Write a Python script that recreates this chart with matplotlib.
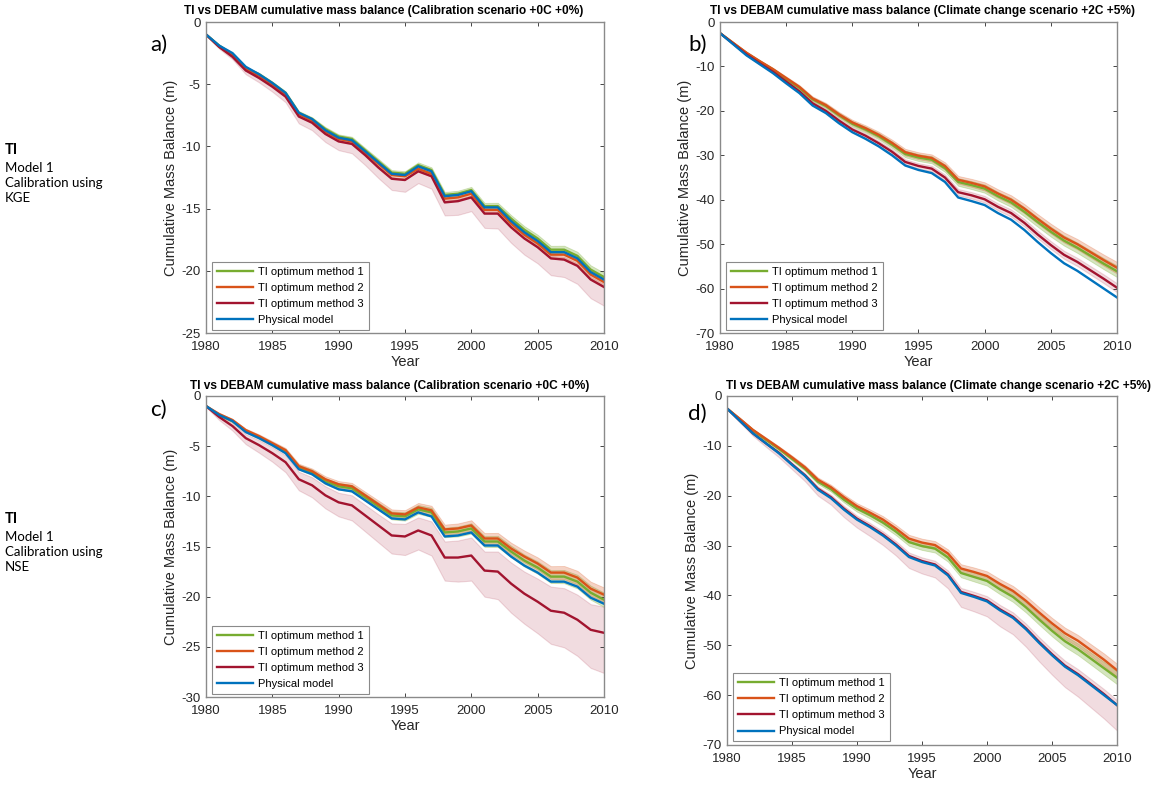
import numpy as np
import matplotlib
matplotlib.use("Agg")
import matplotlib.pyplot as plt

plt.rcParams['font.family'] = ['Liberation Sans', 'DejaVu Sans']
plt.rcParams['axes.unicode_minus'] = False

# years of the simulation
years = np.arange(1980, 2011)

labels = ["TI optimum method 1", "TI optimum method 2", "TI optimum method 3", "Physical model"]
colors = ["#77AC30", "#D95319", "#A2142F", "#0072BD"]

# physical model (DEBAM), calibration scenario +0C +0%
phys_cal = [-1.0, -1.9, -2.5, -3.6, -4.2, -4.9, -5.7, -7.3, -7.8, -8.7, -9.3, -9.5, -10.4, -11.3, -12.2, -12.3,
            -11.6, -12.0, -14.0, -13.9, -13.6, -14.9, -14.9, -16.0, -16.9, -17.6, -18.5, -18.5, -19.0, -20.1, -20.7]
# physical model, climate change scenario +2C +5%
phys_cc = [-2.5, -5.0, -7.5, -9.5, -11.5, -13.8, -16.0, -18.8, -20.5, -22.8, -24.8, -26.3, -28.0, -30.0, -32.3, -33.3,
           -34.0, -36.0, -39.5, -40.3, -41.2, -43.0, -44.5, -46.8, -49.5, -52.0, -54.3, -56.0, -58.0, -60.0, -62.0]

# panel a) KGE, calibration scenario
m1_a = [-1.0, -1.9, -2.6, -3.7, -4.2, -4.9, -5.7, -7.3, -7.8, -8.6, -9.2, -9.4, -10.3, -11.2, -12.1, -12.2,
        -11.5, -11.9, -13.9, -13.8, -13.5, -14.8, -14.8, -15.8, -16.7, -17.4, -18.3, -18.3, -18.8, -19.9, -20.5]
m2_a = [-1.0, -2.0, -2.7, -3.8, -4.3, -5.0, -5.8, -7.4, -7.9, -8.8, -9.4, -9.6, -10.5, -11.4, -12.3, -12.4,
        -11.8, -12.2, -14.2, -14.1, -13.8, -15.1, -15.1, -16.2, -17.1, -17.8, -18.7, -18.7, -19.2, -20.3, -20.9]
m3_a = [-1.0, -2.0, -2.8, -3.9, -4.5, -5.2, -6.0, -7.6, -8.1, -9.0, -9.6, -9.8, -10.7, -11.7, -12.6, -12.7,
        -12.0, -12.4, -14.5, -14.4, -14.1, -15.4, -15.4, -16.5, -17.4, -18.1, -19.0, -19.1, -19.6, -20.7, -21.3]
tan_a = [0.05, 0.08, 0.1, 0.1, 0.12, 0.12, 0.14, 0.15, 0.15, 0.16, 0.17, 0.18, 0.18, 0.2, 0.2, 0.21,
         0.22, 0.22, 0.24, 0.24, 0.25, 0.26, 0.27, 0.28, 0.29, 0.3, 0.31, 0.32, 0.33, 0.34, 0.35]
red_lo_a = [0.05, 0.15, 0.2, 0.3, 0.35, 0.4, 0.45, 0.55, 0.6, 0.65, 0.7, 0.75, 0.8, 0.85, 0.9, 0.95,
            0.95, 1.0, 1.05, 1.1, 1.1, 1.15, 1.2, 1.25, 1.3, 1.3, 1.35, 1.4, 1.45, 1.5, 1.5]
red_hi_a = [0.02, 0.05, 0.05, 0.06, 0.07, 0.08, 0.08, 0.09, 0.1, 0.1, 0.11, 0.12, 0.12, 0.13, 0.14, 0.14,
            0.15, 0.15, 0.16, 0.17, 0.17, 0.18, 0.18, 0.19, 0.2, 0.2, 0.21, 0.22, 0.22, 0.23, 0.25]

# panel b) KGE, climate change scenario
m1_b = [-2.5, -4.75, -7.0, -8.9, -10.7, -12.8, -14.8, -17.4, -18.9, -21.0, -22.9, -24.2, -25.7, -27.6, -29.7, -30.5,
        -31.0, -32.9, -36.0, -36.7, -37.5, -39.2, -40.6, -42.7, -45.0, -47.2, -49.2, -50.8, -52.6, -54.4, -56.1]
m2_b = [-2.5, -4.7, -6.9, -8.8, -10.6, -12.6, -14.6, -17.2, -18.7, -20.8, -22.6, -23.9, -25.4, -27.2, -29.3, -30.1,
        -30.6, -32.4, -35.5, -36.2, -37.0, -38.6, -40.0, -42.0, -44.3, -46.5, -48.5, -50.0, -51.8, -53.6, -55.3]
m3_b = [-2.5, -4.9, -7.3, -9.3, -11.2, -13.4, -15.6, -18.3, -20.0, -22.2, -24.2, -25.6, -27.3, -29.2, -31.5, -32.4,
        -33.0, -35.0, -38.3, -39.0, -39.9, -41.6, -43.0, -45.2, -47.8, -50.2, -52.4, -54.0, -55.9, -57.8, -59.8]
tan_b = [0.1, 0.15, 0.2, 0.25, 0.3, 0.35, 0.4, 0.45, 0.5, 0.55, 0.6, 0.65, 0.7, 0.72, 0.75, 0.78,
         0.8, 0.83, 0.86, 0.9, 0.93, 0.96, 1.0, 1.03, 1.06, 1.1, 1.13, 1.16, 1.2, 1.25, 1.3]
red_lo_b = [0.1, 0.15, 0.2, 0.25, 0.3, 0.32, 0.35, 0.4, 0.42, 0.45, 0.5, 0.52, 0.55, 0.58, 0.6, 0.62,
            0.65, 0.68, 0.7, 0.72, 0.75, 0.78, 0.8, 0.82, 0.85, 0.88, 0.9, 0.92, 0.95, 0.98, 1.0]
red_hi_b = [0.1, 0.15, 0.2, 0.25, 0.3, 0.32, 0.35, 0.4, 0.42, 0.45, 0.5, 0.52, 0.55, 0.58, 0.6, 0.62,
            0.65, 0.68, 0.7, 0.72, 0.75, 0.78, 0.8, 0.82, 0.85, 0.88, 0.9, 0.92, 0.95, 0.98, 1.0]

# panel c) NSE, calibration scenario
m1_c = [-1.0, -1.9, -2.5, -3.5, -4.1, -4.8, -5.5, -7.1, -7.6, -8.5, -9.0, -9.2, -10.1, -11.0, -11.9, -12.0,
        -11.3, -11.6, -13.6, -13.5, -13.2, -14.5, -14.5, -15.5, -16.4, -17.1, -18.0, -18.0, -18.5, -19.6, -20.3]
m2_c = [-1.0, -1.8, -2.4, -3.4, -4.0, -4.7, -5.4, -7.0, -7.5, -8.3, -8.8, -9.0, -9.9, -10.8, -11.7, -11.8,
        -11.1, -11.4, -13.3, -13.2, -12.9, -14.2, -14.2, -15.2, -16.0, -16.7, -17.6, -17.6, -18.1, -19.2, -19.8]
m3_c = [-1.0, -2.1, -3.0, -4.2, -4.9, -5.7, -6.6, -8.3, -8.9, -9.9, -10.6, -10.9, -11.9, -12.9, -13.9, -14.0,
        -13.4, -13.9, -16.1, -16.1, -15.9, -17.4, -17.5, -18.7, -19.7, -20.5, -21.4, -21.6, -22.3, -23.3, -23.6]
tan_c = [0.05, 0.1, 0.12, 0.15, 0.18, 0.2, 0.22, 0.25, 0.27, 0.3, 0.32, 0.34, 0.36, 0.38, 0.4, 0.42,
         0.44, 0.46, 0.48, 0.5, 0.52, 0.54, 0.56, 0.58, 0.6, 0.62, 0.64, 0.66, 0.68, 0.7, 0.72]
red_lo_c = [0.1, 0.3, 0.45, 0.6, 0.75, 0.85, 1.0, 1.1, 1.2, 1.3, 1.4, 1.5, 1.6, 1.7, 1.8, 1.85,
            1.9, 2.0, 2.3, 2.4, 2.5, 2.6, 2.75, 2.9, 3.0, 3.15, 3.3, 3.45, 3.6, 3.8, 4.0]
red_hi_c = [0.05, 0.15, 0.3, 0.4, 0.5, 0.6, 0.7, 0.75, 0.8, 0.9, 0.95, 1.0, 1.05, 1.1, 1.2, 1.25,
            1.3, 1.4, 1.6, 1.7, 1.8, 1.9, 2.0, 2.1, 2.2, 2.3, 2.4, 2.45, 2.5, 2.55, 2.6]

# panel d) NSE, climate change scenario
m1_d = [-2.5, -4.7, -6.9, -8.8, -10.6, -12.6, -14.6, -17.2, -18.7, -20.8, -22.6, -23.9, -25.4, -27.2, -29.3, -30.1,
        -30.6, -32.4, -35.5, -36.3, -37.1, -38.8, -40.3, -42.4, -44.8, -47.1, -49.2, -50.8, -52.7, -54.6, -56.5]
m2_d = [-2.5, -4.6, -6.8, -8.6, -10.4, -12.3, -14.3, -16.8, -18.3, -20.3, -22.1, -23.4, -24.8, -26.6, -28.6, -29.4,
        -29.9, -31.6, -34.6, -35.3, -36.1, -37.7, -39.1, -41.1, -43.4, -45.6, -47.6, -49.1, -51.0, -52.9, -55.0]
m3_d = [-2.5, -5.0, -7.5, -9.5, -11.4, -13.7, -15.9, -18.6, -20.3, -22.6, -24.6, -26.1, -27.8, -29.8, -32.1, -33.1,
        -33.8, -35.8, -39.3, -40.1, -41.0, -42.8, -44.3, -46.6, -49.3, -51.8, -54.1, -55.8, -57.8, -59.8, -62.0]
tan_d = [0.1, 0.15, 0.2, 0.25, 0.3, 0.35, 0.4, 0.45, 0.5, 0.55, 0.6, 0.65, 0.7, 0.72, 0.75, 0.78,
         0.8, 0.83, 0.86, 0.9, 0.93, 0.96, 1.0, 1.03, 1.06, 1.1, 1.13, 1.16, 1.2, 1.25, 1.3]
red_lo_d = [0.1, 0.3, 0.5, 0.7, 0.9, 1.0, 1.2, 1.4, 1.5, 1.7, 1.8, 2.0, 2.1, 2.2, 2.4, 2.5,
            2.6, 2.8, 3.0, 3.1, 3.2, 3.4, 3.5, 3.7, 3.9, 4.1, 4.3, 4.5, 4.7, 4.9, 5.1]
red_hi_d = [0.1, 0.15, 0.2, 0.25, 0.3, 0.35, 0.4, 0.45, 0.5, 0.55, 0.6, 0.62, 0.65, 0.68, 0.7, 0.72,
            0.75, 0.78, 0.8, 0.82, 0.85, 0.88, 0.9, 0.92, 0.95, 0.97, 1.0, 1.0, 1.0, 1.0, 1.0]

titles = ["TI vs DEBAM cumulative mass balance (Calibration scenario +0C +0%)",
          "TI vs DEBAM cumulative mass balance (Climate change scenario +2C +5%)"]


def draw_panel(ax, m1, m2, m3, phys, tan, red_lo, red_hi, ylim, ystep):
    m1, m2, m3 = np.array(m1), np.array(m2), np.array(m3)
    tan, red_lo, red_hi = np.array(tan), np.array(red_lo), np.array(red_hi)
    # uncertainty envelopes
    ax.fill_between(years, m3 - red_lo, m3 + red_hi, facecolor=colors[2], alpha=0.15,
                    edgecolor=colors[2], linewidth=0.8)
    ax.fill_between(years, m1 - tan, m1 + tan, facecolor=colors[0], alpha=0.3,
                    edgecolor=colors[0], linewidth=0.6)
    ax.fill_between(years, m2 - tan, m2 + tan, facecolor=colors[1], alpha=0.25,
                    edgecolor=colors[1], linewidth=0.6)
    for series, c, lab in zip([m1, m2, m3, phys], colors, labels):
        ax.plot(years, series, color=c, lw=1.7, label=lab)
    ax.set_xlim(1980, 2010)
    ax.set_ylim(ylim, 0)
    ax.set_xticks(np.arange(1980, 2011, 5))
    ax.set_yticks(np.arange(ylim, 1, ystep))
    ax.tick_params(direction="in", top=True, right=True, length=3, labelsize=9.5,
                   colors="#262626", width=0.6)
    ax.tick_params(axis="x", pad=6)
    ax.tick_params(axis="y", pad=4)
    for s in ax.spines.values():
        s.set_color("#8a8a8a")
        s.set_linewidth(1.0)
    ax.set_xlabel("Year", fontsize=10.5, color="#262626", labelpad=1)
    ax.set_ylabel("Cumulative Mass Balance (m)", fontsize=10.5, color="#262626", labelpad=2)
    leg = ax.legend(loc="lower left", bbox_to_anchor=(0.016, 0.01), borderaxespad=0,
                    fontsize=8, handlelength=3.2, fancybox=False, framealpha=1,
                    edgecolor="#8a8a8a", borderpad=0.45, labelspacing=0.55, handletextpad=0.5)
    leg.get_frame().set_linewidth(0.8)


fig = plt.figure(figsize=(11.65, 7.86), dpi=100)

ax_a = fig.add_axes([0.1768, 0.5763, 0.3416, 0.3957])
ax_b = fig.add_axes([0.618, 0.5763, 0.3408, 0.3957])
ax_c = fig.add_axes([0.1768, 0.1132, 0.3416, 0.383])
ax_d = fig.add_axes([0.624, 0.0522, 0.3348, 0.444])

draw_panel(ax_a, m1_a, m2_a, m3_a, phys_cal, tan_a, red_lo_a, red_hi_a, -25, 5)
draw_panel(ax_b, m1_b, m2_b, m3_b, phys_cc, tan_b, red_lo_b, red_hi_b, -70, 10)
draw_panel(ax_c, m1_c, m2_c, m3_c, phys_cal, tan_c, red_lo_c, red_hi_c, -30, 5)
draw_panel(ax_d, m1_d, m2_d, m3_d, phys_cc, tan_d, red_lo_d, red_hi_d, -70, 10)

# panel titles
fig.text(384 / 1165, 1 - 11 / 786, titles[0], ha="center", va="center", fontsize=8.6, fontweight="bold")
fig.text(922 / 1165, 1 - 11 / 786, titles[1], ha="center", va="center", fontsize=8.6, fontweight="bold")
fig.text(390 / 1165, 1 - 386 / 786, titles[0], ha="center", va="center", fontsize=8.6, fontweight="bold")
fig.text(938 / 1165, 1 - 386 / 786, titles[1], ha="center", va="center", fontsize=8.6, fontweight="bold")

# panel letters
for lx, ly, letter in [(150, 45, "a)"), (688, 45, "b)"), (150, 410, "c)"), (688, 414, "d)")]:
    fig.text(lx / 1165, 1 - ly / 786, letter, ha="left", va="center", fontsize=16, family="Lato")

# row descriptions on the left
for y0, metric in [(150, "KGE"), (519, "NSE")]:
    fig.text(5 / 1165, 1 - y0 / 786, "TI", ha="left", va="center", fontsize=10.5,
             fontweight="bold", family="Lato")
    fig.text(5 / 1165, 1 - (y0 + 18) / 786, "Model 1", ha="left", va="center", fontsize=9.5, family="Lato")
    fig.text(5 / 1165, 1 - (y0 + 33) / 786, "Calibration using", ha="left", va="center", fontsize=9.5,
             family="Lato")
    fig.text(5 / 1165, 1 - (y0 + 48) / 786, metric, ha="left", va="center", fontsize=9.5, family="Lato")

fig.savefig("out.png", dpi=100)
